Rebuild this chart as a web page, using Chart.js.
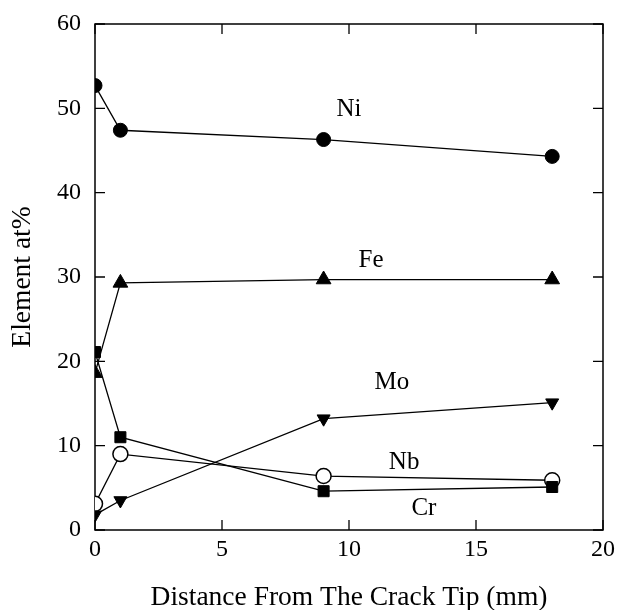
<!DOCTYPE html>
<html>
<head>
<meta charset="utf-8">
<title>Element at% vs distance from crack tip</title>
<script src="https://cdn.jsdelivr.net/npm/chart.js@4/dist/chart.umd.min.js"></script>
<style>
  body { margin: 0; background: #fff; }
  #wrap { width: 618px; height: 610px; }
</style>
</head>
<body>
<div id="wrap"><canvas id="chart" width="618" height="610"></canvas></div>
<script>
// distance from the crack tip (mm)
const distance = [0, 1, 9, 18];

// composition (at%) at each distance
const ni = [52.7, 47.4, 46.3, 44.3];
const fe = [18.6, 29.3, 29.7, 29.7];
const mo = [1.8, 3.5, 13.2, 15.1];
const nb = [3.1, 9.0, 6.4, 5.9];
const cr = [21.1, 11.0, 4.6, 5.1];

const xTicks = [0, 5, 10, 15, 20];
const yTicks = [0, 10, 20, 30, 40, 50, 60];

// where each element name sits (data units)
const seriesNames = ['Ni', 'Fe', 'Mo', 'Nb', 'Cr'];
const nameX = [10.0, 10.87, 11.69, 12.17, 12.95];
const nameY = [49.9, 32.0, 17.55, 8.06, 2.61];

const serif = 'Liberation Serif, Times New Roman, serif';

function pts(values) {
    return distance.map((d, i) => ({ x: d, y: values[i] }));
}

// box around the plot with inward tick marks on every side
const framePlugin = {
    id: 'frame',
    beforeDatasetsDraw(chart) {
        const { ctx, chartArea: a, scales } = chart;
        const len = 10;
        ctx.save();
        ctx.strokeStyle = '#000';
        ctx.lineWidth = 1.5;
        ctx.strokeRect(a.left, a.top, a.right - a.left, a.bottom - a.top);
        ctx.lineWidth = 1.3;
        ctx.beginPath();
        xTicks.forEach(v => {
            const px = scales.x.getPixelForValue(v);
            ctx.moveTo(px, a.bottom); ctx.lineTo(px, a.bottom - len);
            ctx.moveTo(px, a.top); ctx.lineTo(px, a.top + len);
        });
        yTicks.forEach(v => {
            const py = scales.y.getPixelForValue(v);
            ctx.moveTo(a.left, py); ctx.lineTo(a.left + len, py);
            ctx.moveTo(a.right, py); ctx.lineTo(a.right - len, py);
        });
        ctx.stroke();
        ctx.restore();
    }
};

// element names next to their curves
const namePlugin = {
    id: 'names',
    afterDatasetsDraw(chart) {
        const { ctx, scales } = chart;
        ctx.save();
        ctx.fillStyle = '#000';
        ctx.font = '25px ' + serif;
        ctx.textAlign = 'center';
        ctx.textBaseline = 'middle';
        seriesNames.forEach((name, i) => {
            ctx.fillText(name, scales.x.getPixelForValue(nameX[i]), scales.y.getPixelForValue(nameY[i]));
        });
        ctx.restore();
    }
};

const line = { borderColor: '#000', borderWidth: 1.3, pointBorderColor: '#000', pointBorderWidth: 1, showLine: true, tension: 0 };

new Chart(document.getElementById('chart'), {
    type: 'scatter',
    data: {
        datasets: [
            { ...line, label: 'Ni', data: pts(ni), pointStyle: 'circle', pointRadius: 7, pointBackgroundColor: '#000', order: 5 },
            { ...line, label: 'Fe', data: pts(fe), pointStyle: 'triangle', pointRadius: 8.5, pointBackgroundColor: '#000', order: 3 },
            { ...line, label: 'Mo', data: pts(mo), pointStyle: 'triangle', pointRotation: 180, pointRadius: 7.5, pointBackgroundColor: '#000', order: 1 },
            { ...line, label: 'Nb', data: pts(nb), pointStyle: 'circle', pointRadius: 7.5, pointBorderWidth: 1.5, pointBackgroundColor: '#fff', order: 4 },
            { ...line, label: 'Cr', data: pts(cr), pointStyle: 'rect', pointRadius: 7.8, pointBackgroundColor: '#000', order: 2 }
        ]
    },
    options: {
        responsive: false,
        animation: false,
        layout: { padding: { top: 24, right: 15, left: 0, bottom: 0 } },
        plugins: {
            legend: { display: false },
            tooltip: { enabled: false }
        },
        scales: {
            x: {
                type: 'linear',
                min: 0,
                max: 20,
                afterFit(scale) {
                    scale.height = 80;
                    scale.paddingLeft = 0;
                    scale.paddingRight = 0;
                },
                afterBuildTicks(scale) { scale.ticks = xTicks.map(v => ({ value: v })); },
                grid: { display: false, drawTicks: false },
                border: { display: false },
                ticks: { color: '#000', padding: 5, font: { family: serif, size: 24 } },
                title: {
                    display: true,
                    text: 'Distance From The Crack Tip (mm)',
                    color: '#000',
                    font: { family: serif, size: 27.5, lineHeight: 0.88 },
                    padding: 0
                }
            },
            y: {
                type: 'linear',
                min: 0,
                max: 60,
                afterFit(scale) {
                    scale.width = 95;
                    scale.paddingTop = 0;
                    scale.paddingBottom = 0;
                },
                afterBuildTicks(scale) { scale.ticks = yTicks.map(v => ({ value: v })); },
                grid: { display: false, drawTicks: false },
                border: { display: false },
                ticks: { color: '#000', padding: 14, font: { family: serif, size: 24 } },
                title: {
                    display: true,
                    text: 'Element at%',
                    color: '#000',
                    font: { family: serif, size: 27.5 },
                    padding: { top: 6, bottom: 0 }
                }
            }
        }
    },
    plugins: [framePlugin, namePlugin]
});
</script>
</body>
</html>
